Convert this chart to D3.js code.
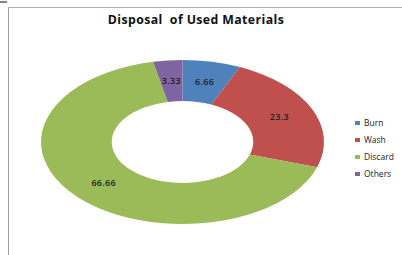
<!DOCTYPE html>
<html><head><meta charset="utf-8">
<script src="https://cdn.jsdelivr.net/npm/d3@7"></script>
<style>body{margin:0;background:#fff}svg{display:block}</style>
</head><body>
<script>
const categories = ["Burn", "Wash", "Discard", "Others"];
const values = [6.66, 23.3, 66.66, 3.33];
const labels = ["6.66", "23.3", "66.66", "3.33"];
const colors = ["#4f81bd", "#c0504d", "#9bbb59", "#8064a2"];
const title = "Disposal  of Used Materials";

const W = 402, H = 255;
const svg = d3.select("body").append("svg").attr("width", W).attr("height", H);

// frame
svg.append("line").attr("x1", 8.5).attr("x2", 8.5).attr("y1", 7).attr("y2", H).attr("stroke", "#9a9a9a").attr("stroke-width", 1);
svg.append("line").attr("x1", 8).attr("x2", W).attr("y1", 7.5).attr("y2", 7.5).attr("stroke", "#b0b0b0").attr("stroke-width", 1);
svg.append("line").attr("x1", 0).attr("x2", 7).attr("y1", 2).attr("y2", 2).attr("stroke", "#333").attr("stroke-width", 1.2);

svg.append("text").attr("x", 196).attr("y", 23.5).attr("text-anchor", "middle")
  .attr("font-family", "'Open Sans', sans-serif").attr("font-weight", "bold").attr("font-size", 12.3)
  .attr("letter-spacing", 0.4)
  .attr("fill", "#111").style("white-space", "pre").text(title);

const cx = 182.5, cy = 142, ry = 82, rx = 141.5, sx = rx / ry;
const pie = d3.pie().sort(null).value(d => d)(values);
const arc = d3.arc().innerRadius(ry * 0.5).outerRadius(ry);
const g = svg.append("g").attr("transform", `translate(${cx},${cy}) scale(${sx},1)`);
g.selectAll("path").data(pie).join("path").attr("d", arc).attr("fill", (d, i) => colors[i]);

const labelArc = d3.arc().innerRadius(ry * 0.75).outerRadius(ry * 0.75);
svg.selectAll("text.lbl").data(pie).join("text").attr("class", "lbl")
  .attr("x", d => cx + labelArc.centroid(d)[0] * sx)
  .attr("y", d => cy + labelArc.centroid(d)[1] + 3.3)
  .attr("text-anchor", "middle")
  .attr("font-family", "'Open Sans', sans-serif").attr("font-weight", 600).attr("font-size", 9)
  .attr("letter-spacing", 0.3)
  .attr("fill", "#222").text((d, i) => labels[i]);

const lg = svg.append("g");
categories.forEach((c, i) => {
  const y = 123 + i * 17;
  lg.append("rect").attr("x", 355).attr("y", y - 2).attr("width", 5).attr("height", 4).attr("fill", colors[i]);
  lg.append("text").attr("x", 364).attr("y", y + 3).attr("font-family", "'Open Sans', sans-serif")
    .attr("font-size", 8.5).attr("fill", "#222").text(c);
});
</script>
</body></html>
